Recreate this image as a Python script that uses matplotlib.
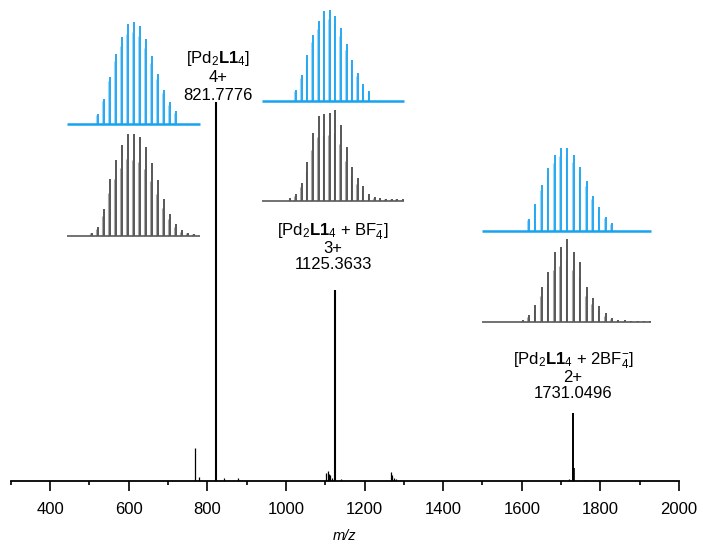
import matplotlib
matplotlib.use("Agg")
import matplotlib.pyplot as plt
import matplotlib.transforms as mtransforms

plt.rcParams['font.family'] = ['Liberation Sans', 'DejaVu Sans']
plt.rcParams['mathtext.fontset'] = 'custom'
plt.rcParams['mathtext.rm'] = 'Liberation Sans'
plt.rcParams['mathtext.it'] = 'Liberation Sans:italic'
plt.rcParams['mathtext.bf'] = 'Liberation Sans:bold'

# ---------------- data ----------------
# main spectrum (stick peaks), relative intensity (%)
spec_mz = [770.0, 779.5, 821.78, 843.0, 878.0, 1103.0, 1106.0, 1109.0, 1112.0, 1118.0,
           1125.36, 1140.0, 1268.0, 1271.0, 1275.0, 1280.0, 1290.0, 1705.0, 1720.0,
           1729.6, 1731.05, 1732.5, 1760.0]
spec_int = [8.7, 1.0, 100.0, 0.8, 0.8, 2.0, 2.5, 1.8, 1.5, 0.8,
            50.3, 0.5, 2.2, 1.4, 0.8, 0.5, 0.3, 0.3, 0.4,
            3.4, 17.9, 3.4, 0.3]
spec_lw = [0.9, 0.9, 1.5, 0.9, 0.9, 0.9, 0.9, 0.9, 0.9, 0.9,
           1.5, 0.9, 0.9, 0.9, 0.9, 0.9, 0.9, 0.9, 0.9,
           1.2, 1.4, 1.2, 0.9]

# isotope pattern 1: [Pd2L14] 4+
sim1_mz = [820.28, 820.53, 820.78, 821.03, 821.28, 821.53, 821.78, 822.03, 822.28,
           822.53, 822.78, 823.03, 823.28, 823.53]
sim1_int = [9.8, 24.8, 46.4, 69.0, 85.0, 97.7, 100.0, 96.0, 83.0, 66.3, 48.7, 33.7, 21.2, 12.4]
exp1_mz = [820.03, 820.28, 820.53, 820.78, 821.03, 821.28, 821.53, 821.78, 822.03,
           822.28, 822.53, 822.78, 823.03, 823.28, 823.53, 823.78, 824.03, 824.28]
exp1_int = [2.9, 8.8, 26.0, 56.0, 74.6, 88.6, 100.0, 99.3, 96.4, 86.6, 71.7, 54.4,
            36.2, 21.2, 11.4, 5.2, 2.9, 1.6]

# isotope pattern 2: [Pd2L14 + BF4-] 3+
sim2_mz = [1123.36, 1123.70, 1124.03, 1124.36, 1124.70, 1125.03, 1125.36, 1125.70,
           1126.03, 1126.36, 1126.70, 1127.03, 1127.36, 1127.70]
sim2_int = [11.8, 28.3, 50.4, 72.4, 87.9, 98.9, 100.0, 94.1, 80.1, 62.9, 45.6, 30.5, 18.8, 10.7]
exp2_mz = [1123.03, 1123.36, 1123.70, 1124.03, 1124.36, 1124.70, 1125.03, 1125.36,
           1125.70, 1126.03, 1126.36, 1126.70, 1127.03, 1127.36, 1127.70, 1128.03,
           1128.36, 1128.70, 1129.03, 1129.36, 1129.70]
exp2_int = [2.6, 7.0, 19.5, 42.3, 74.6, 93.8, 95.2, 96.3, 100.0, 83.5, 58.8, 37.5,
            25.0, 15.8, 7.0, 4.0, 2.6, 1.8, 1.8, 1.8, 1.5]

# isotope pattern 3: [Pd2L14 + 2BF4-] 2+
sim3_mz = [1728.55, 1729.05, 1729.55, 1730.05, 1730.55, 1731.05, 1731.55, 1732.05,
           1732.55, 1733.05, 1733.55, 1734.05, 1734.55, 1735.05]
sim3_int = [14.9, 32.7, 55.2, 75.8, 91.1, 100.0, 100.0, 91.9, 77.4, 60.1, 42.7, 28.6, 16.9, 9.7]
exp3_mz = [1728.05, 1728.55, 1729.05, 1729.55, 1730.05, 1730.55, 1731.05, 1731.55,
           1732.05, 1732.55, 1733.05, 1733.55, 1734.05, 1734.55, 1735.05, 1735.55,
           1736.05, 1736.55, 1737.05, 1737.55, 1738.05]
exp3_int = [2.8, 8.8, 20.5, 42.6, 61.0, 84.3, 90.8, 100.0, 84.3, 72.3, 43.0, 28.9,
            19.3, 10.8, 5.2, 3.2, 2.4, 2.0, 1.6, 1.6, 1.6]

x_ticks = [400, 600, 800, 1000, 1200, 1400, 1600, 1800, 2000]
labels = [
    (r"[Pd$_2$$\mathbf{L1}$$_4$]", "4+", "821.7776"),
    (r"[Pd$_2$$\mathbf{L1}$$_4$ + BF$_4^{-}$]", "3+", "1125.3633"),
    (r"[Pd$_2$$\mathbf{L1}$$_4$ + 2BF$_4^{-}$]", "2+", "1731.0496"),
]

# ---------------- layout ----------------
W, H = 701, 542
fig = plt.figure(figsize=(W / 100, H / 100), dpi=100)


def px_axes(x0, x1, ytop, ybot):
    return fig.add_axes([x0 / W, 1 - ybot / H, (x1 - x0) / W, (ybot - ytop) / H])


ax = px_axes(10.7, 679, 0, 480.7)
ax.vlines(spec_mz, 0, spec_int, colors='black', linewidths=spec_lw)
ax.set_xlim(300, 2000)
ax.set_ylim(0, 126.9)
for s in ['left', 'top', 'right']:
    ax.spines[s].set_visible(False)
ax.spines['bottom'].set_linewidth(1.3)
ax.set_yticks([])
ax.set_xticks(x_ticks)
ax.set_xticks(range(300, 2001, 100), minor=True)
ax.tick_params(axis='x', which='major', direction='out', length=7, width=1.2,
               labelsize=12, pad=8)
ax.tick_params(axis='x', which='minor', direction='out', length=3, width=1.2)
ax.set_xlabel('m/z', fontsize=10.5, style='italic', labelpad=9)
ax.patch.set_alpha(0)

BLUE = '#17a3f0'
GREY = '#4a4a4a'
GREY_LIGHT = '#a8a8a8'

insets = [
    # x0px, x1px, top px, baseline px, xmin, xmax, px per unit, blue offset
    (67.3, 200.0, 18, 235.7, 819.01, 824.54, 1.02, 109.5, sim1_mz, sim1_int, exp1_mz, exp1_int),
    (262.3, 404.0, 4, 200.7, 1121.36, 1129.77, 0.907, 109.9, sim2_mz, sim2_int, exp2_mz, exp2_int),
    (482.3, 651.0, 140, 322.3, 1724.89, 1738.10, 0.83, 110.0, sim3_mz, sim3_int, exp3_mz, exp3_int),
]
for (x0, x1, yt, yb, xmin, xmax, sc, off, smz, sint, emz, eint) in insets:
    ia = px_axes(x0, x1, yt, yb)
    ia.axis('off')
    ia.set_xlim(xmin, xmax)
    ia.set_ylim(0, (yb - yt) / sc)
    sh = mtransforms.offset_copy(ia.transData, fig=fig, x=-1.6, y=0, units='dots')
    ia.vlines(smz, off, [off + v * 0.9 for v in sint], colors='#9fd6f7', linewidths=0.8,
              clip_on=False, transform=sh)
    ia.vlines(smz, off, [off + v for v in sint], colors=BLUE, linewidths=1.3, clip_on=False)
    ia.hlines(off, xmin, xmax, colors=BLUE, linewidths=1.8, clip_on=False)
    ia.vlines(emz, 0, [v * 0.75 for v in eint], colors=GREY_LIGHT, linewidths=0.8,
              clip_on=False, transform=sh)
    ia.vlines(emz, 0, eint, colors=GREY, linewidths=1.3, clip_on=False)
    ia.hlines(0, xmin, xmax, colors='#5a5a5a', linewidths=1.2, clip_on=False)

label_pos = [  # center x px, baselines px
    (218, [62.7, 81.5, 100.5]),
    (333, [235.5, 252.5, 269.0]),
    (573, [364.5, 381.5, 398.5]),
]
for (l1, l2, l3), (cx, bls) in zip(labels, label_pos):
    for txt, b in zip((l1, l2, l3), bls):
        fig.text(cx / W, 1 - b / H, txt, ha='center', va='baseline', fontsize=12)

fig.savefig('out.png', dpi=100)
